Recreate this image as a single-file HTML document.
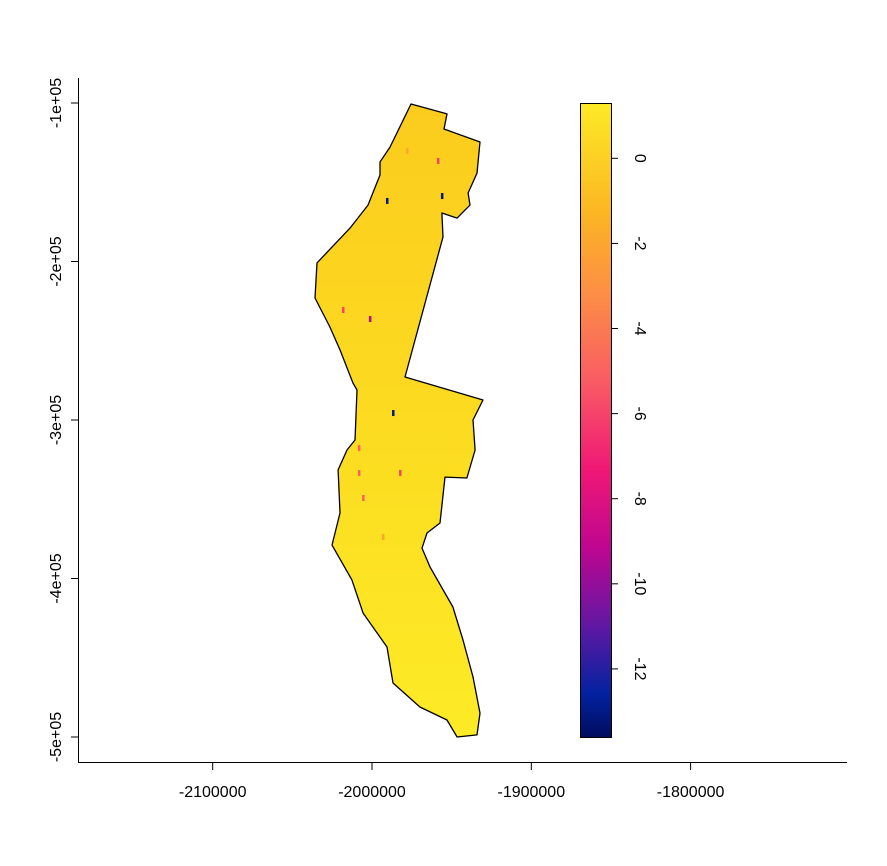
<!DOCTYPE html>
<html><head><meta charset="utf-8"><style>
body{margin:0;background:#fff;}
svg text{font-family:"Liberation Sans",sans-serif;font-size:16px;fill:#000;}
</style></head><body>
<svg width="887" height="861" xmlns="http://www.w3.org/2000/svg">
<defs>
<linearGradient id="mapg" x1="0" y1="0" x2="0" y2="1">
<stop offset="0" stop-color="#fbcc1e"/><stop offset="0.5" stop-color="#fcdb20"/><stop offset="1" stop-color="#fdeb26"/>
</linearGradient>
<linearGradient id="cbg" x1="0" y1="1" x2="0" y2="0">
<stop offset="0" stop-color="#000d5e"/>
<stop offset="0.07" stop-color="#0322a0"/>
<stop offset="0.18" stop-color="#6417a2"/>
<stop offset="0.3" stop-color="#bf0690"/>
<stop offset="0.42" stop-color="#ef1776"/>
<stop offset="0.56" stop-color="#f95b64"/>
<stop offset="0.7" stop-color="#fc8e45"/>
<stop offset="0.83" stop-color="#fbb722"/>
<stop offset="1" stop-color="#fdea26"/>
</linearGradient>
</defs>
<g id="g"></g>
</svg>
<script>
const xTicks=[-2100000,-2000000,-1900000,-1800000];
const yTicks=[-100000,-200000,-300000,-400000,-500000];
const yTickLabels=["-1e+05","-2e+05","-3e+05","-4e+05","-5e+05"];
const cbTicks=[0,-2,-4,-6,-8,-10,-12];
const cbRange=[-13.6,1.3];
const outlineX=[-1975500,-1952900,-1954800,-1932200,-1934100,-1939700,-1938500,-1946600,-1956100,-1955400,-1979300,-1930300,-1936600,-1935300,-1940400,-1954200,-1957300,-1965500,-1968600,-1963600,-1949200,-1942900,-1936600,-1932200,-1934100,-1946600,-1952900,-1969900,-1986800,-1990600,-2005600,-2012600,-2025100,-2020100,-2021300,-2015700,-2010700,-2009400,-2011900,-2020100,-2026400,-2035800,-2034500,-2013800,-2002500,-1995000,-1995000,-1988700];
const outlineY=[-100600,-106900,-116400,-124600,-144200,-156800,-164400,-172600,-169400,-184500,-272900,-287400,-300000,-318900,-336600,-336000,-365000,-371300,-380800,-392700,-418000,-438800,-462100,-484900,-498700,-500000,-489300,-481100,-465900,-443200,-421800,-400900,-378900,-358700,-331500,-318900,-312600,-281100,-276700,-255800,-241300,-223000,-200900,-178900,-164400,-145400,-137200,-127800];
const cellX=[-1978000,-1958600,-1990600,-1956100,-2018200,-2001300,-2008200,-2008200,-1982400,-2005600,-1993100,-1986800];
const cellY=[-130300,-136600,-161800,-158700,-230600,-236300,-317700,-333400,-333400,-349200,-373800,-295600];
const cellV=[-2,-6,-13,-13,-6,-9,-5,-5,-6,-5,-2,-13];
const sx=v=>372+(v+2000000)*(159.3/100000);
const sy=v=>103+(-100000-v)*(158.5/100000);
const cy=v=>103+(cbRange[1]-v)/(cbRange[1]-cbRange[0])*634;
const g=document.getElementById('g');
const NS='http://www.w3.org/2000/svg';
function mk(t,a,p){const e=document.createElementNS(NS,t);for(const k in a)e.setAttribute(k,a[k]);(p||g).appendChild(e);return e;}
function col(v){const t=Math.max(0,(v-cbRange[0])/(cbRange[1]-cbRange[0]));
 const stops=[[0,[0,13,94]],[0.07,[3,34,160]],[0.18,[100,23,162]],[0.3,[191,6,144]],[0.42,[239,23,118]],[0.56,[249,91,100]],[0.7,[252,142,69]],[0.83,[251,183,34]],[1,[253,234,38]]];
 for(let i=1;i<stops.length;i++){if(t<=stops[i][0]){const a=stops[i-1],b=stops[i],f=(t-a[0])/(b[0]-a[0]);return 'rgb('+a[1].map((c,j)=>Math.round(c+(b[1][j]-c)*f)).join(',')+')';}}return 'rgb(253,234,38)';}
let pts=outlineX.map((x,i)=>sx(x).toFixed(1)+','+sy(outlineY[i]).toFixed(1)).join(' ');
const poly=mk('polygon',{points:pts,fill:'url(#mapg)',stroke:'#000','stroke-width':1.3,'stroke-linejoin':'round'});


cellX.forEach((x,i)=>{const r=mk('rect',{x:sx(x)-1,y:sy(cellY[i])-3,width:2.5,height:6,fill:col(cellV[i])});

});
const yAxis=mk('line',{x1:78.5,x2:78.5,y1:78,y2:763,stroke:'#000'});


const xAxis=mk('line',{x1:78,x2:847,y1:762.5,y2:762.5,stroke:'#000'});


xTicks.forEach(v=>{const x=sx(v);mk('line',{x1:x,x2:x,y1:763,y2:770,stroke:'#000'});
const t=mk('text',{x:x,y:797,'text-anchor':'middle'});t.textContent=v;

});
yTicks.forEach((v,i)=>{const y=sy(v);mk('line',{x1:71,x2:78,y1:y,y2:y,stroke:'#000'});
const t=mk('text',{x:61,y:y,'text-anchor':'middle',transform:'rotate(-90 61 '+y+')'});t.textContent=yTickLabels[i];

});
const cb=mk('rect',{x:580.5,y:103.5,width:31,height:634,fill:'url(#cbg)',stroke:'#000','stroke-width':1});


cbTicks.forEach(v=>{const y=cy(v);mk('line',{x1:611,x2:618,y1:y,y2:y,stroke:'#000'});
const t=mk('text',{x:635,y:y,'text-anchor':'middle',transform:'rotate(90 635 '+y+')'});t.textContent=v;

});
</script>
</body></html>
